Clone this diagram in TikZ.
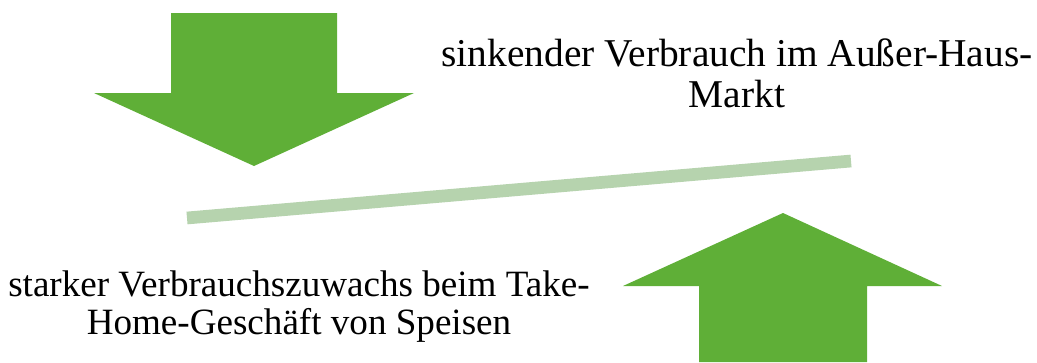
\documentclass[tikz,border=0pt]{standalone}
\usepackage{fontspec}
\setmainfont{Liberation Serif}
\definecolor{arrowgreen}{HTML}{5FAF37}
\definecolor{bargreen}{HTML}{B6D3AE}
\begin{document}
\begin{tikzpicture}[x=1pt,y=-1pt,
  bigarrow/.style={fill=arrowgreen,draw=none},
  lbl/.style={align=center,inner sep=0pt,anchor=base}]
\useasboundingbox (0,0) rectangle (1037,362);
% down arrow
\fill[bigarrow] (171,13) -- (337,13) -- (337,93) -- (414,93) -- (254,166) -- (94,93) -- (171,93) -- cycle;
% up arrow
\fill[bigarrow] (699,362) -- (867,362) -- (867,286) -- (942,286) -- (783,213) -- (623,286) -- (699,286) -- cycle;
% bar
\coordinate (barL) at (187,218);
\coordinate (barR) at (851,161);
\draw[bargreen,line width=12.7pt] (barL) -- (barR);
% labels
\node[lbl,font=\fontsize{39.4}{41}\selectfont] (top) at (737,107) {sinkender Verbrauch im Außer-Haus-\\Markt};
\node[lbl,font=\fontsize{37.1}{38}\selectfont] (bot) at (299,334) {starker Verbrauchszuwachs beim Take-\\Home-Geschäft von Speisen};
\end{tikzpicture}
\end{document}
